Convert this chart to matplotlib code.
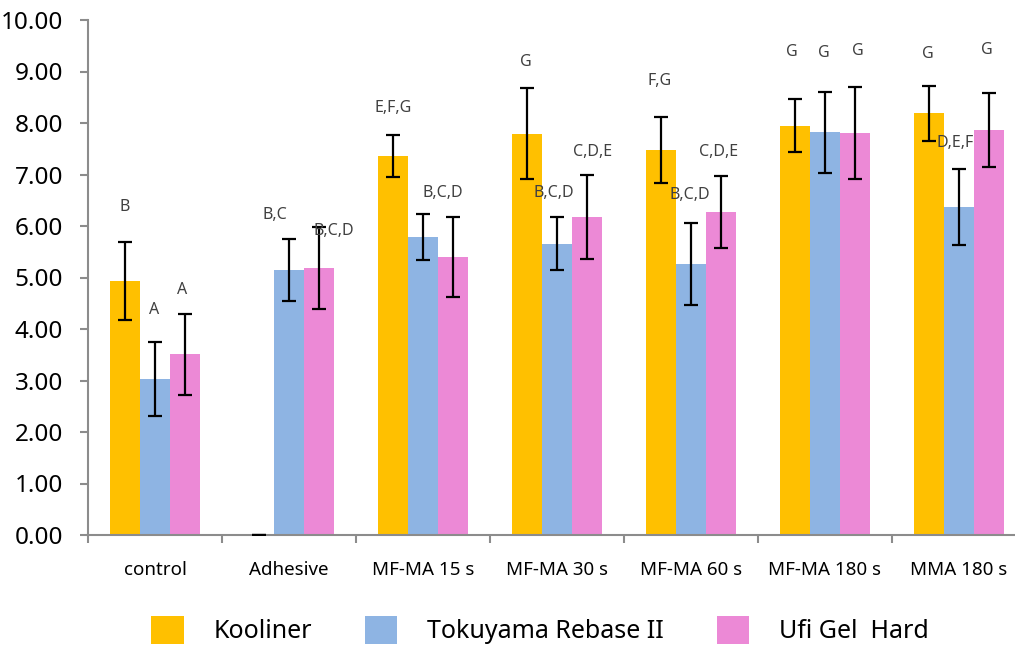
import numpy as np
import matplotlib.pyplot as plt
from matplotlib.ticker import FixedLocator

categories = ["control", "Adhesive", "MF-MA 15 s", "MF-MA 30 s", "MF-MA 60 s", "MF-MA 180 s", "MMA 180 s"]
series = ["Kooliner", "Tokuyama Rebase II", "Ufi Gel  Hard"]

kooliner = [4.93, 0.00, 7.36, 7.79, 7.47, 7.95, 8.19]
kooliner_sd = [0.75, 0.00, 0.40, 0.88, 0.64, 0.52, 0.53]
tokuyama = [3.03, 5.15, 5.79, 5.66, 5.26, 7.82, 6.37]
tokuyama_sd = [0.72, 0.60, 0.45, 0.51, 0.80, 0.79, 0.74]
ufi = [3.51, 5.18, 5.40, 6.17, 6.27, 7.80, 7.86]
ufi_sd = [0.79, 0.80, 0.77, 0.82, 0.70, 0.89, 0.72]

kooliner_grp = ["B", "", "E,F,G", "G", "F,G", "G", "G"]
tokuyama_grp = ["A", "B,C", "", "B,C,D", "B,C,D", "G", "D,E,F"]
ufi_grp = ["A", "B,C,D", "B,C,D", "C,D,E", "C,D,E", "G", "G"]

# where the letter labels sit (value units) and their small sideways nudge
kooliner_lab_y = [6.37, 0, 8.29, 9.18, 8.82, 9.38, 9.34]
tokuyama_lab_y = [4.37, 6.21, 0, 6.64, 6.60, 9.35, 7.61]
ufi_lab_y = [4.76, 5.90, 6.64, 7.44, 7.44, 9.40, 9.42]
kooliner_lab_dx = [0, 0, 0, -1, -1, -3, -1]
tokuyama_lab_dx = [-1, -14, 0, -3, -1, -1, -4]
ufi_lab_dx = [-3, 15, -10, 6, -2, 3, -2]

colors = ["#FFC000", "#8EB4E3", "#EC89D6"]
axis_grey = "#8c8c8c"

plt.rcParams["font.family"] = ["Noto Sans", "DejaVu Sans"]

W, H = 1015, 647
fig = plt.figure(figsize=(W / 100, H / 100), dpi=100)
px_per_cat = 134
ax = fig.add_axes([88 / W, (H - 535) / H, 7 * px_per_cat / W, 515 / H])

x = np.arange(len(categories))
width = 30 / px_per_cat
values = [kooliner, tokuyama, ufi]
sds = [kooliner_sd, tokuyama_sd, ufi_sd]
groups = [kooliner_grp, tokuyama_grp, ufi_grp]
lab_y = [kooliner_lab_y, tokuyama_lab_y, ufi_lab_y]
lab_dx = [kooliner_lab_dx, tokuyama_lab_dx, ufi_lab_dx]

for k in range(3):
    pos = x + (k - 1) * width
    ax.bar(pos, values[k], width, color=colors[k], label=series[k], zorder=2)
    ax.errorbar(pos, values[k], yerr=sds[k], fmt="none", ecolor="black",
                elinewidth=1.6, capsize=4.7, capthick=1.6, zorder=3)
    for i, txt in enumerate(groups[k]):
        if txt:
            ax.text(pos[i] + lab_dx[k][i] / px_per_cat, lab_y[k][i], txt,
                    ha="center", va="center", fontsize=11.5, color="#404040")

ax.set_xlim(-0.5, len(categories) - 0.5)
ax.set_ylim(0, 10)
ax.set_yticks(np.arange(0, 10.01, 1))
ax.set_yticklabels([f"{v:.2f}" for v in np.arange(0, 10.01, 1)], fontsize=17.5)
ax.set_xticks(x)
ax.set_xticklabels(categories, fontsize=13.5)
ax.xaxis.set_minor_locator(FixedLocator(np.arange(-0.5, len(categories), 1)))

ax.tick_params(axis="y", direction="out", length=6, width=1.5, color=axis_grey, pad=12)
ax.tick_params(axis="x", which="major", length=0, pad=19)
ax.tick_params(axis="x", which="minor", direction="out", length=6, width=1.5, color=axis_grey)

for side in ["top", "right"]:
    ax.spines[side].set_visible(False)
for side in ["left", "bottom"]:
    ax.spines[side].set_color(axis_grey)
    ax.spines[side].set_linewidth(1.5)

fig.legend(loc="center", bbox_to_anchor=(540 / W, 17 / H), ncol=3, frameon=False,
           fontsize=18, handlelength=1.3, handleheight=1.35, handletextpad=1.2,
           columnspacing=2.1)

fig.savefig("out.png", dpi=100)
